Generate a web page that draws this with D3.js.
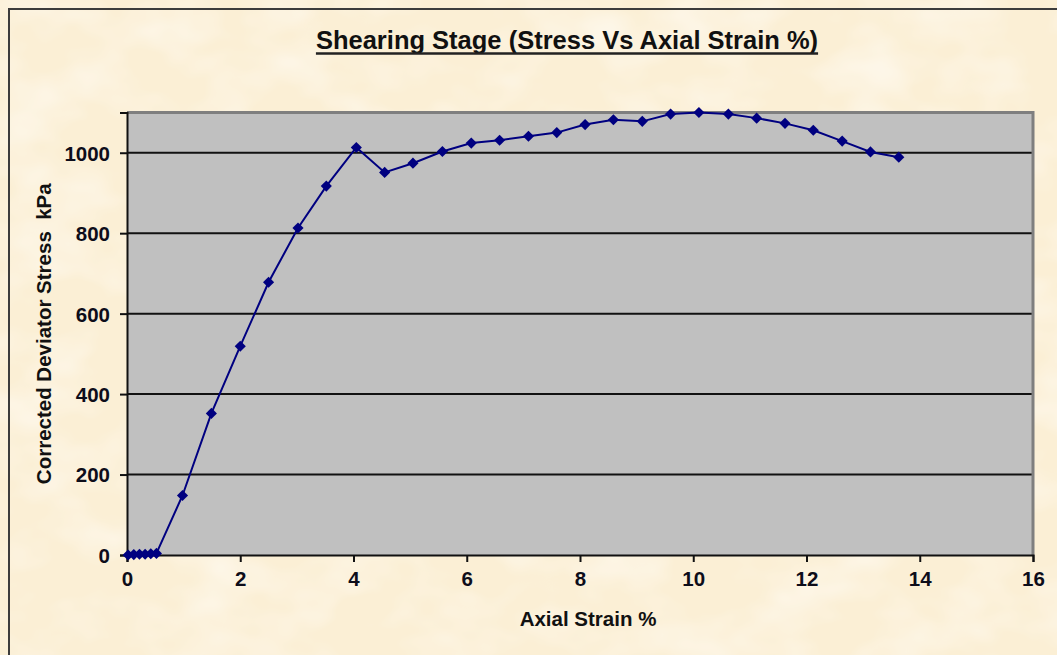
<!DOCTYPE html>
<html>
<head>
<meta charset="utf-8">
<script src="https://cdn.jsdelivr.net/npm/d3@7"></script>
<style>
  html, body { margin: 0; padding: 0; background: #FBEFD5; }
  svg { display: block; }
  text { font-family: "Liberation Sans", Arial, sans-serif; font-weight: bold; }
</style>
</head>
<body>
<svg id="chart" width="1057" height="655"></svg>
<script>
// Shearing stage readings: axial strain (%) against corrected deviator stress (kPa)
const axialStrain = [0.02, 0.12, 0.22, 0.32, 0.42, 0.52, 0.98, 1.49, 2.0, 2.5, 3.02, 3.52,
  4.05, 4.55, 5.05, 5.57, 6.08, 6.58, 7.09, 7.59, 8.09, 8.59, 9.1, 9.6, 10.1, 10.62,
  11.12, 11.62, 12.12, 12.63, 13.13, 13.63];
const deviatorStress = [0, 1, 2, 2, 3, 4, 148, 352, 519, 678, 813, 917,
  1013, 951, 974, 1003, 1024, 1031, 1041, 1050, 1070, 1082, 1078, 1096, 1100, 1096,
  1086, 1073, 1056, 1029, 1002, 989];
const xTicks = [0, 2, 4, 6, 8, 10, 12, 14, 16];
const yTicks = [0, 200, 400, 600, 800, 1000];
const xDomain = [0, 16];
const yDomain = [0, 1100];

const chartTitle = "Shearing Stage (Stress Vs Axial Strain %)";
const xTitle = "Axial Strain %";
const yTitle = "Corrected Deviator Stress  kPa";

const svg = d3.select("#chart");
const W = 1057, H = 655;
const plot = { left: 127, right: 1033, top: 112.5, bottom: 555 };

const x = d3.scaleLinear().domain(xDomain).range([plot.left, plot.right]);
const y = d3.scaleLinear().domain(yDomain).range([plot.bottom, plot.top]);

// parchment-like background
const defs = svg.append("defs");
const f = defs.append("filter").attr("id", "parchment")
  .attr("x", 0).attr("y", 0).attr("width", "100%").attr("height", "100%");
f.append("feTurbulence").attr("type", "fractalNoise")
  .attr("baseFrequency", "0.012 0.018").attr("numOctaves", 3).attr("seed", 7).attr("result", "n");
f.append("feColorMatrix").attr("in", "n").attr("type", "matrix")
  .attr("values", "0 0 0 0 1  0 0 0 0 0.975  0 0 0 0 0.93  1.3 0 0 0 -0.55");

svg.append("rect").attr("width", W).attr("height", H).attr("fill", "#FBEFD5");
svg.append("rect").attr("width", W).attr("height", H).attr("fill", "#fff").attr("filter", "url(#parchment)");

// outer chart frame
svg.append("path")
  .attr("d", `M9,${H + 2}V9H${W + 2}`)
  .attr("fill", "none").attr("stroke", "#3c3c3c").attr("stroke-width", 2);

// plot area
svg.append("rect")
  .attr("x", plot.left).attr("y", plot.top)
  .attr("width", plot.right - plot.left).attr("height", plot.bottom - plot.top)
  .attr("fill", "#C0C0C0");

// horizontal gridlines
svg.append("g").selectAll("line")
  .data(yTicks.filter(d => d > 0))
  .join("line")
  .attr("x1", plot.left).attr("x2", plot.right)
  .attr("y1", d => y(d)).attr("y2", d => y(d))
  .attr("stroke", "#111").attr("stroke-width", 2);

// grey frame on top and right of the plot area
svg.append("path")
  .attr("d", `M${plot.left},${plot.top}H${plot.right}V${plot.bottom}`)
  .attr("fill", "none").attr("stroke", "#7f7f7f").attr("stroke-width", 3);

// axes
const xAxis = svg.append("g")
  .attr("transform", `translate(0,${plot.bottom})`)
  .call(d3.axisBottom(x).tickValues(xTicks).tickSize(7).tickPadding(9).tickFormat(d3.format("d")));
const yAxis = svg.append("g")
  .attr("transform", `translate(${plot.left},0)`)
  .call(d3.axisLeft(y).tickValues(yTicks).tickSize(7).tickPadding(10).tickFormat(d3.format("d")));

[xAxis, yAxis].forEach(g => {
  g.select(".domain").attr("stroke", "#111").attr("stroke-width", 2);
  g.selectAll(".tick line").attr("stroke", "#111").attr("stroke-width", 2);
  g.selectAll(".tick text")
    .attr("fill", "#0d0d1a")
    .style("font-size", "20.5px")
    .style("font-family", '"Liberation Sans", Arial, sans-serif')
    .style("font-weight", "bold");
});
xAxis.selectAll(".tick text").attr("dy", "0.74em");
yAxis.selectAll(".tick text").attr("dy", "0.36em");

// data line and diamond markers
const pts = axialStrain.map((s, i) => [s, deviatorStress[i]]);
svg.append("path")
  .datum(pts)
  .attr("fill", "none").attr("stroke", "#000080").attr("stroke-width", 2)
  .attr("d", d3.line().x(d => x(d[0])).y(d => y(d[1])));

const diamond = d3.symbol().type(d3.symbolSquare).size(62);
svg.append("g").selectAll("path")
  .data(pts)
  .join("path")
  .attr("d", diamond)
  .attr("transform", d => `translate(${x(d[0])},${y(d[1])}) rotate(45)`)
  .attr("fill", "#000080");

// titles
const titleX = 567;
const t = svg.append("text")
  .attr("x", titleX).attr("y", 48.5)
  .attr("text-anchor", "middle")
  .attr("fill", "#111")
  .style("font-size", "25.5px")
  .text(chartTitle);
const tw = t.node().getComputedTextLength();
svg.append("line")
  .attr("x1", titleX - tw / 2).attr("x2", titleX + tw / 2)
  .attr("y1", 53.5).attr("y2", 53.5)
  .attr("stroke", "#222").attr("stroke-width", 2.5);

svg.append("text")
  .attr("x", 588).attr("y", 626)
  .attr("text-anchor", "middle")
  .attr("fill", "#111")
  .style("font-size", "20.5px")
  .text(xTitle);

svg.append("text")
  .attr("transform", `translate(51,${(plot.top + plot.bottom) / 2}) rotate(-90)`)
  .attr("text-anchor", "middle")
  .attr("fill", "#111")
  .style("font-size", "20.5px")
  .style("white-space", "pre")
  .text(yTitle);
</script>
</body>
</html>
